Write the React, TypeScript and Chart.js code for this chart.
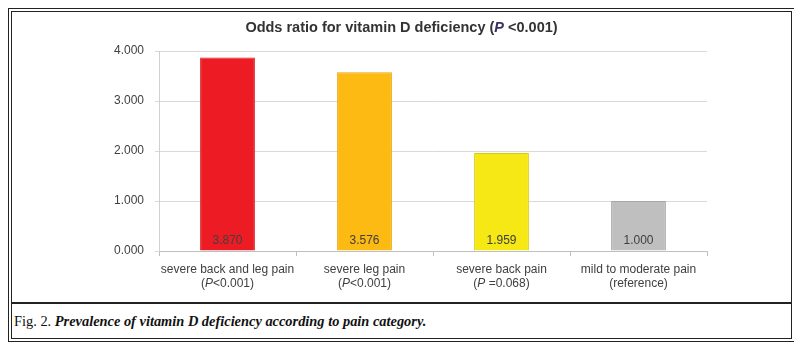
import React, { useEffect, useRef } from "react";
import { Chart, registerables } from "chart.js";
Chart.register(...registerables);

const titleText = "Odds ratio for vitamin D deficiency (P <0.001)";
const categories = ["severe back and leg pain", "severe leg pain", "severe back pain", "mild to moderate pain"];
const subLabels = ["(P<0.001)", "(P<0.001)", "(P =0.068)", "(reference)"];
const values = [3.87, 3.576, 1.959, 1.0];
const barColors = ["#ED1C24", "#FCBA12", "#F5E815", "#BFBFBF"];
const barBorders = ["#D81920", "#E9A50C", "#D9CB10", "#A6A6A6"];
const yMin = 0;
const yMax = 4;
const yStep = 1;
const caption = "Prevalence of vitamin D deficiency according to pain category.";

const FONT = "'Liberation Sans', Arial, sans-serif";

function drawRich(ctx: CanvasRenderingContext2D, text: string, cx: number, cy: number, size: number, weight: string, color: string, italicColor: string) {
  const parts = text.split("P");
  const segs: { t: string; it: boolean }[] = [];
  parts.forEach((p, i) => {
    if (i > 0) segs.push({ t: "P", it: true });
    if (p) segs.push({ t: p, it: false });
  });
  const fontFor = (it: boolean) => `${it ? "italic " : ""}${weight} ${size}px ${FONT}`;
  let total = 0;
  segs.forEach((s) => {
    ctx.font = fontFor(s.it);
    total += ctx.measureText(s.t).width;
  });
  let x = cx - total / 2;
  ctx.textBaseline = "middle";
  ctx.textAlign = "left";
  segs.forEach((s) => {
    ctx.font = fontFor(s.it);
    ctx.fillStyle = s.it ? italicColor : color;
    ctx.fillText(s.t, x, cy);
    x += ctx.measureText(s.t).width;
  });
}

const textPlugin = {
  id: "customText",
  afterDraw(chart: any) {
    const ctx = chart.ctx as CanvasRenderingContext2D;
    ctx.save();
    drawRich(ctx, titleText, chart.width / 2, 16, 14.5, "bold", "#333333", "#3a3060");
    const xs = chart.scales.x;
    categories.forEach((c, i) => {
      const cx = xs.getPixelForValue(i);
      drawRich(ctx, c, cx, 258, 12, "normal", "#404040", "#404040");
      drawRich(ctx, subLabels[i], cx, 272, 12, "normal", "#404040", "#404040");
    });
    const meta = chart.getDatasetMeta(0);
    meta.data.forEach((bar: any, i: number) => {
      ctx.font = `normal 12px ${FONT}`;
      ctx.fillStyle = "#404040";
      ctx.textAlign = "center";
      ctx.textBaseline = "middle";
      ctx.fillText(values[i].toFixed(3), bar.x, chart.scales.y.getPixelForValue(0) - 10);
    });
    ctx.restore();
  },
};

export default function App() {
  const ref = useRef<HTMLCanvasElement>(null);
  useEffect(() => {
    if (!ref.current) return;
    const chart = new Chart(ref.current, {
      type: "bar",
      data: {
        labels: categories,
        datasets: [
          {
            data: values,
            backgroundColor: barColors,
            borderColor: barBorders,
            borderWidth: 1,
            barPercentage: 0.8,
            categoryPercentage: 0.5,
          },
        ],
      },
      options: {
        responsive: false,
        animation: false,
        layout: { padding: { left: 0, right: 84, top: 39, bottom: 0 } },
        plugins: { legend: { display: false }, tooltip: { enabled: false }, title: { display: false } },
        scales: {
          x: {
            grid: { display: true, drawOnChartArea: false, drawTicks: true, tickLength: 5, offset: true, color: "#BFBFBF" },
            border: { color: "#BFBFBF", width: 1 },
            ticks: { display: false },
            afterFit: (s: any) => {
              s.height = 51;
            },
          },
          y: {
            min: yMin,
            max: yMax,
            grid: { color: "#D9D9D9", tickLength: 4, drawTicks: true },
            border: { display: true, color: "#D0D0D0" },
            ticks: {
              stepSize: yStep,
              padding: 11,
              color: "#404040",
              font: { family: FONT, size: 12 },
              callback: (v: any) => Number(v).toFixed(3),
            },
            afterFit: (s: any) => {
              s.width = 147;
            },
          },
        },
      },
      plugins: [textPlugin],
    });
    return () => chart.destroy();
  }, []);

  return (
    <div
      style={{
        width: 787,
        height: 334,
        boxSizing: "border-box",
        border: "4px double #222",
        background: "#fff",
      }}
    >
      <canvas ref={ref} width={779} height={290} style={{ display: "block", width: 779, height: 290 }} />
      <div
        style={{
          borderTop: "2px solid #222",
          height: 32,
          boxSizing: "border-box",
          paddingLeft: 2,
          paddingTop: 9,
          fontFamily: "'Liberation Serif', 'DejaVu Serif', serif",
          fontSize: 14.4,
          color: "#111",
          whiteSpace: "nowrap",
        }}
      >
        Fig. 2. <b><i>{caption}</i></b>
      </div>
    </div>
  );
}
